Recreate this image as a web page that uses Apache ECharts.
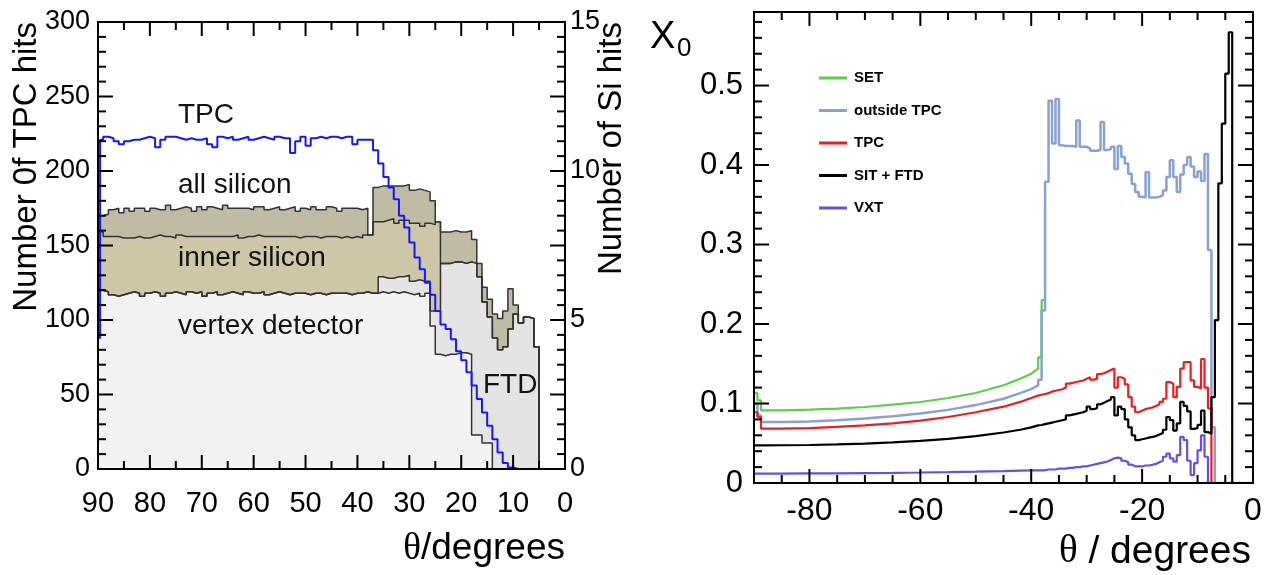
<!DOCTYPE html>
<html>
<head>
<meta charset="utf-8">
<script src="https://cdn.jsdelivr.net/npm/echarts@6/dist/echarts.min.js"></script>
<style>
  html, body { margin: 0; padding: 0; background: #fff; }
  #chart { width: 1271px; height: 575px; }
</style>
</head>
<body>
<div id="chart"></div>
<script>
// ---------------- Left panel: hits per track versus polar angle ----------------
// Silicon histograms use 1-degree bins, listed from the 90-89 bin down to the 1-0 bin.
const vxdHits = [
  6.0, 5.95, 5.85, 5.8, 5.85, 5.9, 5.95, 5.9, 5.8, 5.9,
  5.95, 5.9, 5.8, 5.9, 5.95, 5.9, 5.85, 5.95, 5.9, 5.95,
  5.8, 5.9, 5.95, 5.85, 5.9, 5.95, 5.9, 5.85, 5.95, 5.9,
  5.9, 5.95, 5.85, 5.9, 5.95, 5.9, 5.85, 5.9, 5.9, 5.9,
  5.85, 5.9, 5.9, 5.85, 5.9, 5.9, 5.9, 5.9, 5.85, 5.9,
  5.9, 5.95, 5.9, 5.9, 5.95, 5.9, 5.95, 5.9, 5.95, 5.9,
  5.85, 5.9, 5.8, 5.9, 4.8, 3.85, 3.8, 3.85, 3.85, 3.9,
  3.9, 3.85, 1.14, 1.14, 0.87, 0.87, 0, 0, 0, 0,
  0, 0, 0, 0, 0, 0, 0, 0, 0, 0
];
const ftdHits = [
  0, 0, 0, 0, 0, 0, 0, 0, 0, 0,
  0, 0, 0, 0, 0, 0, 0, 0, 0, 0,
  0, 0, 0, 0, 0, 0, 0, 0, 0, 0,
  0, 0, 0, 0, 0, 0, 0, 0, 0, 0,
  0, 0, 0, 0, 0, 0, 0, 0, 0, 0,
  0, 0, 0, 0, 0.5, 0.5, 0.45, 0.55, 0.5, 0.6,
  0.45, 0.45, 0.5, 0.4, 0.5, 1.45, 3.1, 3.05, 3.1, 3.05,
  3.0, 3.1, 5.76, 5.31, 4.73, 4.23, 4.4, 4.0, 4.1, 4.7,
  5.2, 4.9, 5.1, 5.05, 4.1, 0, 0, 0, 0, 0
];
const sitHits = [
  1.95, 1.85, 1.95, 2.0, 1.9, 1.85, 1.8, 1.9, 1.95, 1.85,
  1.85, 1.95, 2.0, 1.9, 1.8, 1.95, 1.95, 1.85, 1.9, 1.85,
  2.0, 1.9, 1.85, 1.95, 1.9, 1.85, 1.95, 1.9, 1.85, 1.9,
  1.95, 1.85, 1.95, 1.9, 1.85, 1.9, 1.95, 1.9, 1.85, 1.9,
  1.95, 1.9, 1.85, 1.95, 1.9, 1.9, 1.85, 1.9, 1.9, 1.9,
  1.85, 1.9, 1.95, 2.4, 1.85, 1.95, 2.0, 1.8, 1.9, 1.85,
  1.95, 1.9, 1.85, 1.95, 2.9, 3.0, 0, 0, 0, 0,
  0, 0, 0, 0, 0, 0, 0, 0, 0, 0,
  0, 0, 0, 0, 0, 0, 0, 0, 0, 0
];
const setHits = [
  0.55, 0.75, 0.9, 0.95, 0.85, 1.0, 0.9, 0.95, 1.0, 0.9,
  0.95, 0.85, 0.9, 1.05, 0.95, 0.9, 1.0, 0.95, 0.85, 1.0,
  0.9, 1.0, 0.95, 0.9, 1.05, 0.95, 0.9, 1.0, 0.95, 0.9,
  0.95, 1.0, 0.9, 0.95, 1.0, 0.9, 0.95, 1.0, 0.9, 0.95,
  0.9, 1.0, 0.95, 0.9, 1.0, 0.95, 0.9, 0.95, 1.0, 0.95,
  0.95, 0.9, 0, 1.15, 1.2, 1.15, 1.1, 1.25, 1.15, 1.2,
  1.1, 1.15, 1.2, 1.05, 0.8, 0, 1.05, 1.05, 1.05, 1.0,
  1.05, 1.05, 0.8, 0.45, 0.5, 0.6, 0.8, 1.05, 1.2, 1.35,
  0.3, 0, 0, 0, 0, 0, 0, 0, 0, 0
];
// TPC hits: a short entry bin at 90 degrees, then 1-degree bins from 89 to 0.
const tpcHits = [
  88, 221,
  223, 222, 220, 218, 220, 221, 221, 222, 223, 222,
  216, 221, 223, 223, 222, 221, 222, 221, 221, 222,
  218, 216, 223, 222, 223, 221, 222, 223, 221, 222,
  223, 222, 221, 223, 222, 222, 212, 220, 223, 217,
  222, 223, 222, 223, 223, 222, 223, 223, 218, 221,
  221, 221, 214, 205, 196, 189, 181, 170, 162, 152,
  142, 134, 125, 117, 106, 97, 94, 87, 79, 73,
  65, 56, 47, 38, 29, 20, 11, 4, 1, 0,
  0, 0, 0, 0, 0, 0, 0, 0, 0
];
const leftThetaTicks = [90, 80, 70, 60, 50, 40, 30, 20, 10, 0];

// ---------------- Right panel: material budget in radiation lengths ----------------
const x0HeadEdges = [-90, -89.375, -88.75];
const x0SmoothTheta = [-88.75, -85, -80, -75, -70, -65, -60, -55, -50, -45, -42, -40, -38.75];

const setHead = [0.113, 0.104];
const setSmooth = [0.0914, 0.0914, 0.0922, 0.0935, 0.0956, 0.0985, 0.1019, 0.1069, 0.1132, 0.1229, 0.1312, 0.1375, 0.1438];
const setFwd = [0.158, 0.23];

const outHead = [0.1, 0.085];
const outSmooth = [0.0767, 0.0767, 0.0775, 0.079, 0.081, 0.084, 0.0875, 0.092, 0.098, 0.106, 0.113, 0.118, 0.123];
const outFwd = [
  0.13, 0.217, 0.379, 0.481, 0.427, 0.483, 0.425, 0.424, 0.424, 0.424,
  0.423, 0.456, 0.423, 0.423, 0.421, 0.418, 0.418, 0.419, 0.454, 0.419,
  0.420, 0.423, 0.395, 0.424, 0.410, 0.402, 0.389, 0.376, 0.366, 0.360,
  0.359, 0.391, 0.359, 0.359, 0.360, 0.362, 0.368, 0.385, 0.406, 0.385,
  0.366, 0.388, 0.400, 0.410, 0.398, 0.385, 0.392, 0.380, 0.414, 0.293,
  0.070, 0, 0, 0, 0, 0, 0, 0, 0, 0, 0, 0
];

const tpcHead = [0.089, 0.083];
const tpcSmooth = [0.0683, 0.0685, 0.069, 0.0705, 0.0725, 0.075, 0.0785, 0.083, 0.089, 0.096, 0.102, 0.107, 0.110];
const tpcFwd = [
  0.111, 0.112, 0.113, 0.115, 0.116, 0.117, 0.118, 0.120, 0.125, 0.126,
  0.127, 0.128, 0.129, 0.131, 0.133, 0.130, 0.131, 0.137, 0.138, 0.140,
  0.142, 0.144, 0.120, 0.133, 0.131, 0.124, 0.108, 0.096, 0.089, 0.091,
  0.093, 0.094, 0.095, 0.097, 0.099, 0.102, 0.106, 0.127, 0.125, 0.108,
  0.121, 0.144, 0.152, 0.152, 0.129, 0.121, 0.119, 0.156, 0.120, 0.094,
  0, 0, 0, 0, 0, 0, 0, 0, 0, 0, 0, 0
];

const sitFtdHead = [0.0474, 0.0474];
const sitFtdSmooth = [0.0474, 0.0475, 0.0478, 0.0485, 0.0495, 0.051, 0.053, 0.0555, 0.059, 0.0635, 0.067, 0.070, 0.0725];
const sitFtdFwd = [
  0.073, 0.074, 0.075, 0.076, 0.077, 0.078, 0.079, 0.080, 0.085, 0.086,
  0.087, 0.088, 0.089, 0.091, 0.096, 0.093, 0.094, 0.099, 0.101, 0.103,
  0.105, 0.108, 0.085, 0.096, 0.093, 0.080, 0.070, 0.060, 0.054, 0.055,
  0.056, 0.057, 0.058, 0.059, 0.061, 0.063, 0.067, 0.083, 0.079, 0.066,
  0.075, 0.102, 0.097, 0.090, 0.068, 0.069, 0.073, 0.091, 0.064, 0.062,
  0.108, 0.205, 0.377, 0.452, 0.515, 0.567, 0, 0, 0, 0, 0, 0
];

const vxtHead = [0.0117, 0.0117];
const vxtSmooth = [0.0117, 0.0118, 0.012, 0.0122, 0.0125, 0.0128, 0.0132, 0.0137, 0.0143, 0.015, 0.0155, 0.0158, 0.016];
const vxtFwd = [
  0.016, 0.016, 0.017, 0.017, 0.017, 0.018, 0.018, 0.018, 0.019, 0.019,
  0.020, 0.020, 0.021, 0.021, 0.022, 0.023, 0.024, 0.025, 0.026, 0.027,
  0.029, 0.031, 0.032, 0.031, 0.028, 0.026, 0.023, 0.021, 0.021, 0.021,
  0.022, 0.022, 0.023, 0.024, 0.026, 0.028, 0.033, 0.037, 0.031, 0.027,
  0.035, 0.058, 0.054, 0.028, 0.010, 0.025, 0.041, 0.060, 0.033, 0,
  0, 0, 0, 0, 0, 0, 0, 0, 0, 0, 0, 0
];
const legendNames = ['SET', 'outside TPC', 'TPC', 'SIT + FTD', 'VXT'];

// ---------------- bin edges and tick positions ----------------
const siEdges = [];
for (let d = 90; d >= 0; d--) siEdges.push(d);
const tpcEdges = [90, 89.6];
for (let d = 89; d >= 0; d--) tpcEdges.push(d);
const x0FwdEdges = [];
for (let k = 0; k <= 62; k++) x0FwdEdges.push(-38.75 + 0.625 * k);

// tick marks: [value, kind]  kind 0 = x major, 1 = x minor, 2 = y major, 3 = y minor
const leftTicks = [];
for (let t = 5; t <= 85; t += 5) leftTicks.push([t, t % 10 === 0 ? 0 : 1]);
for (let h = 10; h <= 290; h += 10) leftTicks.push([h, h % 50 === 0 ? 2 : 3]);
const rightTicks = [];
for (let t = -85; t <= -5; t += 5) rightTicks.push([t, t % 20 === 0 ? 0 : 1]);
for (let i = 1; i <= 29; i++) rightTicks.push([+(i * 0.02).toFixed(2), i % 5 === 0 ? 2 : 3]);

// ---------------- helpers ----------------
function steps(edges, values) {
  const pts = [];
  for (let i = 0; i < values.length; i++) {
    pts.push([edges[i], values[i]], [edges[i + 1], values[i]]);
  }
  return pts;
}
function cumulative(layers) {
  return layers[0].map((_, i) => layers.reduce((s, a) => s + a[i], 0));
}
function x0Curve(head, smooth, fwd) {
  const pts = steps(x0HeadEdges, head);
  smooth.forEach((v, i) => pts.push([x0SmoothTheta[i], v]));
  return pts.concat(steps(x0FwdEdges, fwd));
}

const lvlVxd = vxdHits;
const lvlFtd = cumulative([vxdHits, ftdHits]);
const lvlInner = cumulative([vxdHits, ftdHits, sitHits]);
const lvlAll = cumulative([vxdHits, ftdHits, sitHits, setHits]);

const FONT = '"Liberation Sans", Arial, Helvetica, sans-serif';
const SERIF = '"Liberation Serif", "Times New Roman", serif';

function band(name, values, fill) {
  return {
    type: 'line', name, xAxisIndex: 0, yAxisIndex: 1, z: 2,
    data: steps(siEdges, values), symbol: 'none', showSymbol: false, silent: true,
    lineStyle: { color: '#333', width: 1.5 },
    areaStyle: { color: fill, opacity: 1, origin: 'start' }
  };
}
function x0Line(name, pts, color, width) {
  return {
    type: 'line', name, xAxisIndex: 2, yAxisIndex: 2, z: 2,
    data: pts, symbol: 'none', showSymbol: false, silent: true,
    itemStyle: { color }, lineStyle: { color, width }
  };
}

// Panel boxes
const leftBox = { left: 98, top: 22, width: 467, height: 447 };
const rightBox = { left: 754, top: 12, width: 499, height: 471 };

// The frame is drawn by the grid border; axes contribute labels, tick marks are added below.
function axis(extra) {
  return Object.assign({
    type: 'value',
    z: 10,
    axisLine: { show: false, onZero: false },
    axisTick: { show: false },
    minorTick: { show: false },
    splitLine: { show: false },
    minorSplitLine: { show: false }
  }, extra);
}
function frame(box) {
  return Object.assign({
    show: true, borderColor: '#000', borderWidth: 2, backgroundColor: 'transparent',
    z: 6, outerBoundsMode: 'none', containLabel: false
  }, box);
}

const texts = [
  // axis titles
  { type: 'text', x: 27, y: 22, rotation: Math.PI / 2, silent: true,
    style: { text: 'Number 0f TPC hits', font: '33px ' + FONT, fill: '#000',
      align: 'right', textAlign: 'right', verticalAlign: 'middle', textVerticalAlign: 'middle' } },
  { type: 'text', x: 612, y: 22, rotation: Math.PI / 2, silent: true,
    style: { text: 'Number of Si hits', font: '33px ' + FONT, fill: '#000',
      align: 'right', textAlign: 'right', verticalAlign: 'middle', textVerticalAlign: 'middle' } },
  { type: 'text', x: 565, y: 549, silent: true,
    style: { text: '{t|θ}/degrees', font: '37px ' + FONT, fill: '#000',
      rich: { t: { fontFamily: SERIF, fontSize: 37 } },
      align: 'right', textAlign: 'right', verticalAlign: 'middle', textVerticalAlign: 'middle' } },
  { type: 'text', x: 1251, y: 552, silent: true,
    style: { text: '{t|θ} / degrees', font: '39px ' + FONT, fill: '#000',
      rich: { t: { fontFamily: SERIF, fontSize: 39 } },
      align: 'right', textAlign: 'right', verticalAlign: 'middle', textVerticalAlign: 'middle' } },
  { type: 'text', x: 650, y: 38, silent: true,
    style: { text: 'X', font: '38px ' + FONT, fill: '#000',
      align: 'left', textAlign: 'left', verticalAlign: 'middle', textVerticalAlign: 'middle' } },
  { type: 'text', x: 677, y: 49, silent: true,
    style: { text: '0', font: '26px ' + FONT, fill: '#000',
      align: 'left', textAlign: 'left', verticalAlign: 'middle', textVerticalAlign: 'middle' } },
  // detector annotations in the left panel
  { type: 'text', x: 178, y: 115, silent: true, z: 10,
    style: { text: 'TPC', font: '28px ' + FONT, fill: '#111', verticalAlign: 'middle', textVerticalAlign: 'middle' } },
  { type: 'text', x: 178, y: 185, silent: true, z: 10,
    style: { text: 'all silicon', font: '28px ' + FONT, fill: '#111', verticalAlign: 'middle', textVerticalAlign: 'middle' } },
  { type: 'text', x: 178, y: 258, silent: true, z: 10,
    style: { text: 'inner silicon', font: '28px ' + FONT, fill: '#111', verticalAlign: 'middle', textVerticalAlign: 'middle' } },
  { type: 'text', x: 178, y: 326, silent: true, z: 10,
    style: { text: 'vertex detector', font: '28px ' + FONT, fill: '#111', verticalAlign: 'middle', textVerticalAlign: 'middle' } },
  { type: 'text', x: 483, y: 385, silent: true, z: 10,
    style: { text: 'FTD', font: '28px ' + FONT, fill: '#111', verticalAlign: 'middle', textVerticalAlign: 'middle' } }
];

const option = {
  animation: false,
  backgroundColor: '#fff',
  textStyle: { fontFamily: FONT },
  grid: [frame(leftBox), frame(rightBox)],
  legend: {
    data: legendNames,
    orient: 'vertical', left: 814, top: 65,
    icon: 'rect', itemWidth: 28, itemHeight: 3, itemGap: 16.5,
    selectedMode: false,
    textStyle: { fontFamily: FONT, fontWeight: 'bold', fontSize: 15, color: '#000', lineHeight: 16, padding: [0, 0, 0, 2] }
  },
  xAxis: [
    axis({
      gridIndex: 0, position: 'bottom', min: 0, max: 90, interval: 10, inverse: true,
      axisLabel: { fontSize: 29, color: '#000', margin: 20, fontFamily: FONT, showMinLabel: true, showMaxLabel: true,
        formatter: v => (leftThetaTicks.indexOf(v) >= 0 ? String(v) : '') }
    }),
    axis({ gridIndex: 0, position: 'top', min: 0, max: 90, interval: 10, inverse: true, axisLabel: { show: false } }),
    axis({
      gridIndex: 1, position: 'bottom', min: -90, max: 0, minInterval: 20, maxInterval: 20,
      axisLabel: { fontSize: 32, color: '#000', margin: 12, fontFamily: FONT, showMinLabel: true, showMaxLabel: true,
        formatter: v => (v === -90 ? '' : String(v)) }
    }),
    axis({ gridIndex: 1, position: 'top', min: -90, max: 0, minInterval: 20, maxInterval: 20, axisLabel: { show: false } })
  ],
  yAxis: [
    axis({
      gridIndex: 0, position: 'left', min: 0, max: 300, interval: 50,
      axisLabel: { fontSize: 27, color: '#000', margin: 8, fontFamily: FONT, showMinLabel: true, showMaxLabel: true }
    }),
    axis({
      gridIndex: 0, position: 'right', min: 0, max: 15, interval: 2.5,
      axisLabel: { fontSize: 27, color: '#000', margin: 5, fontFamily: FONT, showMinLabel: true, showMaxLabel: true,
        formatter: v => (v % 5 === 0 ? String(v) : '') }
    }),
    axis({
      gridIndex: 1, position: 'left', min: 0, max: 0.5925, interval: 0.1,
      axisLabel: { fontSize: 31, color: '#000', margin: 11, fontFamily: FONT, showMinLabel: true, showMaxLabel: true,
        formatter: v => (Math.abs(v * 10 - Math.round(v * 10)) < 1e-6 ? String(+v.toFixed(1)) : '') }
    }),
    axis({ gridIndex: 1, position: 'right', min: 0, max: 0.5925, interval: 0.1, axisLabel: { show: false } })
  ],
  series: [
    band('all silicon', lvlAll, '#c0bca4'),
    band('inner silicon', lvlInner, '#cdc6a7'),
    band('FTD', lvlFtd, '#e4e4e4'),
    band('vertex detector', lvlVxd, '#f2f2f2'),
    {
      type: 'line', name: 'TPC hits', xAxisIndex: 0, yAxisIndex: 0, z: 3,
      data: steps(tpcEdges, tpcHits), symbol: 'none', showSymbol: false, silent: true,
      lineStyle: { color: '#1616ff', width: 2 }
    },
    x0Line('SET', x0Curve(setHead, setSmooth, setFwd), '#5ccd4c', 2.2),
    x0Line('outside TPC', x0Curve(outHead, outSmooth, outFwd), '#88a2cf', 2.5),
    x0Line('TPC', x0Curve(tpcHead, tpcSmooth, tpcFwd), '#f01c24', 2.2),
    x0Line('SIT + FTD', x0Curve(sitFtdHead, sitFtdSmooth, sitFtdFwd), '#000000', 2.2),
    x0Line('VXT', x0Curve(vxtHead, vxtSmooth, vxtFwd), '#6650dc', 2.2)
  ]
};

const chart = echarts.init(document.getElementById('chart'), null, { renderer: 'canvas' });
chart.setOption(option);

// Map a value pair to pixels through a series' axes, falling back to the panel box.
function mapper(seriesIndex, box, xr, yr, xInverse) {
  return (x, y) => {
    let p = null;
    try { p = chart.convertToPixel({ seriesIndex }, [x, y]); } catch (e) { p = null; }
    if (p && isFinite(p[0]) && isFinite(p[1])) return p;
    const fx = (x - xr[0]) / (xr[1] - xr[0]);
    const fy = (y - yr[0]) / (yr[1] - yr[0]);
    return [box.left + (xInverse ? 1 - fx : fx) * box.width, box.top + (1 - fy) * box.height];
  };
}
// Inward tick marks on all four sides of a panel.
function panelTicks(map, box, xr, yr, ticks, xLens, yLens) {
  const out = [];
  const left = box.left, right = box.left + box.width;
  const top = box.top, bottom = box.top + box.height;
  const seg = (x1, y1, x2, y2) => out.push({
    type: 'line', silent: true, z: 20,
    shape: { x1, y1, x2, y2 }, style: { stroke: '#000', lineWidth: 2 }
  });
  ticks.forEach(([v, kind]) => {
    if (kind <= 1) {
      const len = xLens[kind];
      const px = map(v, yr[0])[0];
      seg(px, bottom, px, bottom - len);
      seg(px, top, px, top + len);
    } else {
      const len = yLens[kind - 2];
      const py = map(xr[0], v)[1];
      seg(left, py, left + len, py);
      seg(right, py, right - len, py);
    }
  });
  return out;
}
const tickEls = panelTicks(mapper(4, leftBox, [0, 90], [0, 300], true), leftBox, [0, 90], [0, 300], leftTicks, [14, 8], [15, 8])
  .concat(panelTicks(mapper(5, rightBox, [-90, 0], [0, 0.5925], false), rightBox, [-90, 0], [0, 0.5925], rightTicks, [14, 8], [15, 8]));
chart.setOption({ graphic: texts.concat(tickEls) });
</script>
</body>
</html>
